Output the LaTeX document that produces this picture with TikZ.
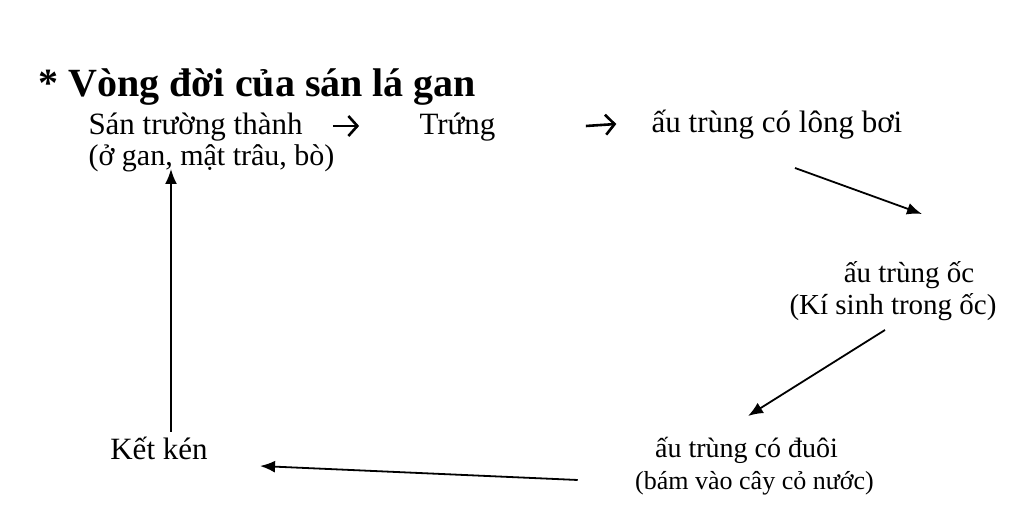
\documentclass[tikz,border=0pt]{standalone}
\usepackage{fontspec}
\setmainfont{Liberation Serif}
\usetikzlibrary{arrows.meta}

\begin{document}
\begin{tikzpicture}[x=0.5pt, y=-0.5pt,
	txt/.style={inner sep=0pt, anchor=base, font=\fontsize{15.5pt}{18pt}\selectfont},
	arr/.style={line width=0.9pt, -{Latex[length=7.5pt, width=6pt]}},
	glyph/.style={line width=1.3pt, -{Straight Barb[length=4.5pt, width=10pt]}}]
	\useasboundingbox[fill=white] (0,0) rectangle (1024,522);
	\node[inner sep=0pt, anchor=base west, font=\fontsize{20pt}{24pt}\bfseries\selectfont] (0) at (38, 97) {* Vòng đời của sán lá gan};
	\node[txt] (1) at (195.5, 135) {Sán trường thành};
	\node[txt] (2) at (457.5, 135) {Trứng};
	\node[txt] (3) at (777, 133) {ấu trùng có lông bơi};
	\node[txt, font=\fontsize{15pt}{18pt}\selectfont] (4) at (211.5, 166) {(ở gan, mật trâu, bò)};
	\node[txt, font=\fontsize{14.5pt}{18pt}\selectfont] (5) at (909, 283) {ấu trùng ốc};
	\node[txt, font=\fontsize{14.5pt}{18pt}\selectfont] (6) at (893, 315) {(Kí sinh trong ốc)};
	\node[txt, font=\fontsize{14pt}{18pt}\selectfont] (7) at (746.5, 458) {ấu trùng có đuôi};
	\node[txt, font=\fontsize{13pt}{16pt}\selectfont] (8) at (754.5, 490) {(bám vào cây cỏ nước)};
	\node[txt] (9) at (159, 460) {Kết kén};
	\draw[glyph] ([shift={(30,-9)}]1.base east) -- ([shift={(-60,-9)}]2.base west);
	\draw[glyph] ([shift={(90,-9)}]2.base east) -- ([shift={(-35,-9)}]3.base west);
	\draw[arr] ([shift={(18,35)}]3.base) -- ([shift={(13,-69)}]5.base);
	\draw[arr] ([shift={(-8,15)}]6.base) -- ([shift={(1.5,-42)}]7.base);
	\draw[arr] ([shift={(-77,22)}]7.base west) -- ([shift={(52,6)}]9.base east);
	\draw[arr] ([shift={(12,-28)}]9.base) -- ([shift={(-40.5,3)}]4.base);
\end{tikzpicture}
\end{document}
